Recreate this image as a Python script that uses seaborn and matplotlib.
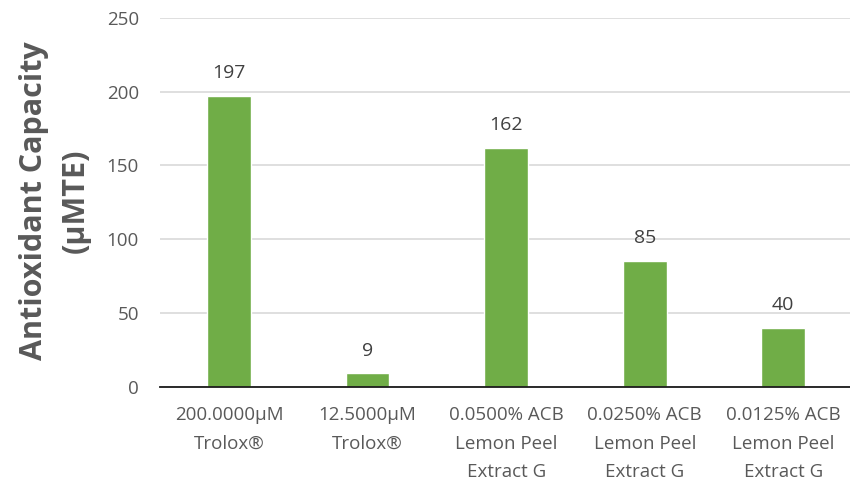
import matplotlib
matplotlib.use("Agg")
import matplotlib.pyplot as plt
import seaborn as sns
import pandas as pd

categories = ["200.0000µM\nTrolox®", "12.5000µM\nTrolox®", "0.0500% ACB\nLemon Peel\nExtract G",
              "0.0250% ACB\nLemon Peel\nExtract G", "0.0125% ACB\nLemon Peel\nExtract G"]
values = [197, 9, 162, 85, 40]
y_ticks = [0, 50, 100, 150, 200, 250]

sns.set_theme(style="white")
plt.rcParams['font.family'] = ['Open Sans', 'DejaVu Sans']

df = pd.DataFrame({"cat": categories, "val": values})
fig = plt.figure(figsize=(8.5, 4.87), dpi=100)
ax = fig.add_axes([0.188, 0.206, 0.815, 0.757])
sns.barplot(data=df, x="cat", y="val", color="#70AD47", width=0.315, saturation=1, ax=ax, zorder=3)
ax.set_ylim(0, 250)
ax.set_yticks(y_ticks)
ax.yaxis.grid(True, color="#D9D9D9", linewidth=1.2, zorder=0)
for s in ["top", "right", "left"]:
    ax.spines[s].set_visible(False)
ax.spines["bottom"].set_color("#1a1a1a")
ax.spines["bottom"].set_linewidth(1.3)
ax.spines["bottom"].set_zorder(4)
ax.tick_params(axis="both", length=0, labelsize=13.5, labelcolor="#595959")
ax.tick_params(axis="y", pad=15)
ax.tick_params(axis="x", pad=14)
for lbl in ax.get_xticklabels():
    lbl.set_linespacing(1.75)
ax.set_xlabel("")
ax.set_ylabel("Antioxidant Capacity\n(µMTE)", fontsize=22, fontweight="bold", color="#595959",
              linespacing=1.5)
ax.yaxis.set_label_coords(-0.1, 0.505)
for p, v in zip(ax.patches, values):
    ax.annotate(str(v), (p.get_x() + p.get_width() / 2, v), xytext=(0, 10), textcoords="offset points",
                ha="center", va="bottom", fontsize=14, color="#404040")
fig.savefig("out.png", dpi=100)
